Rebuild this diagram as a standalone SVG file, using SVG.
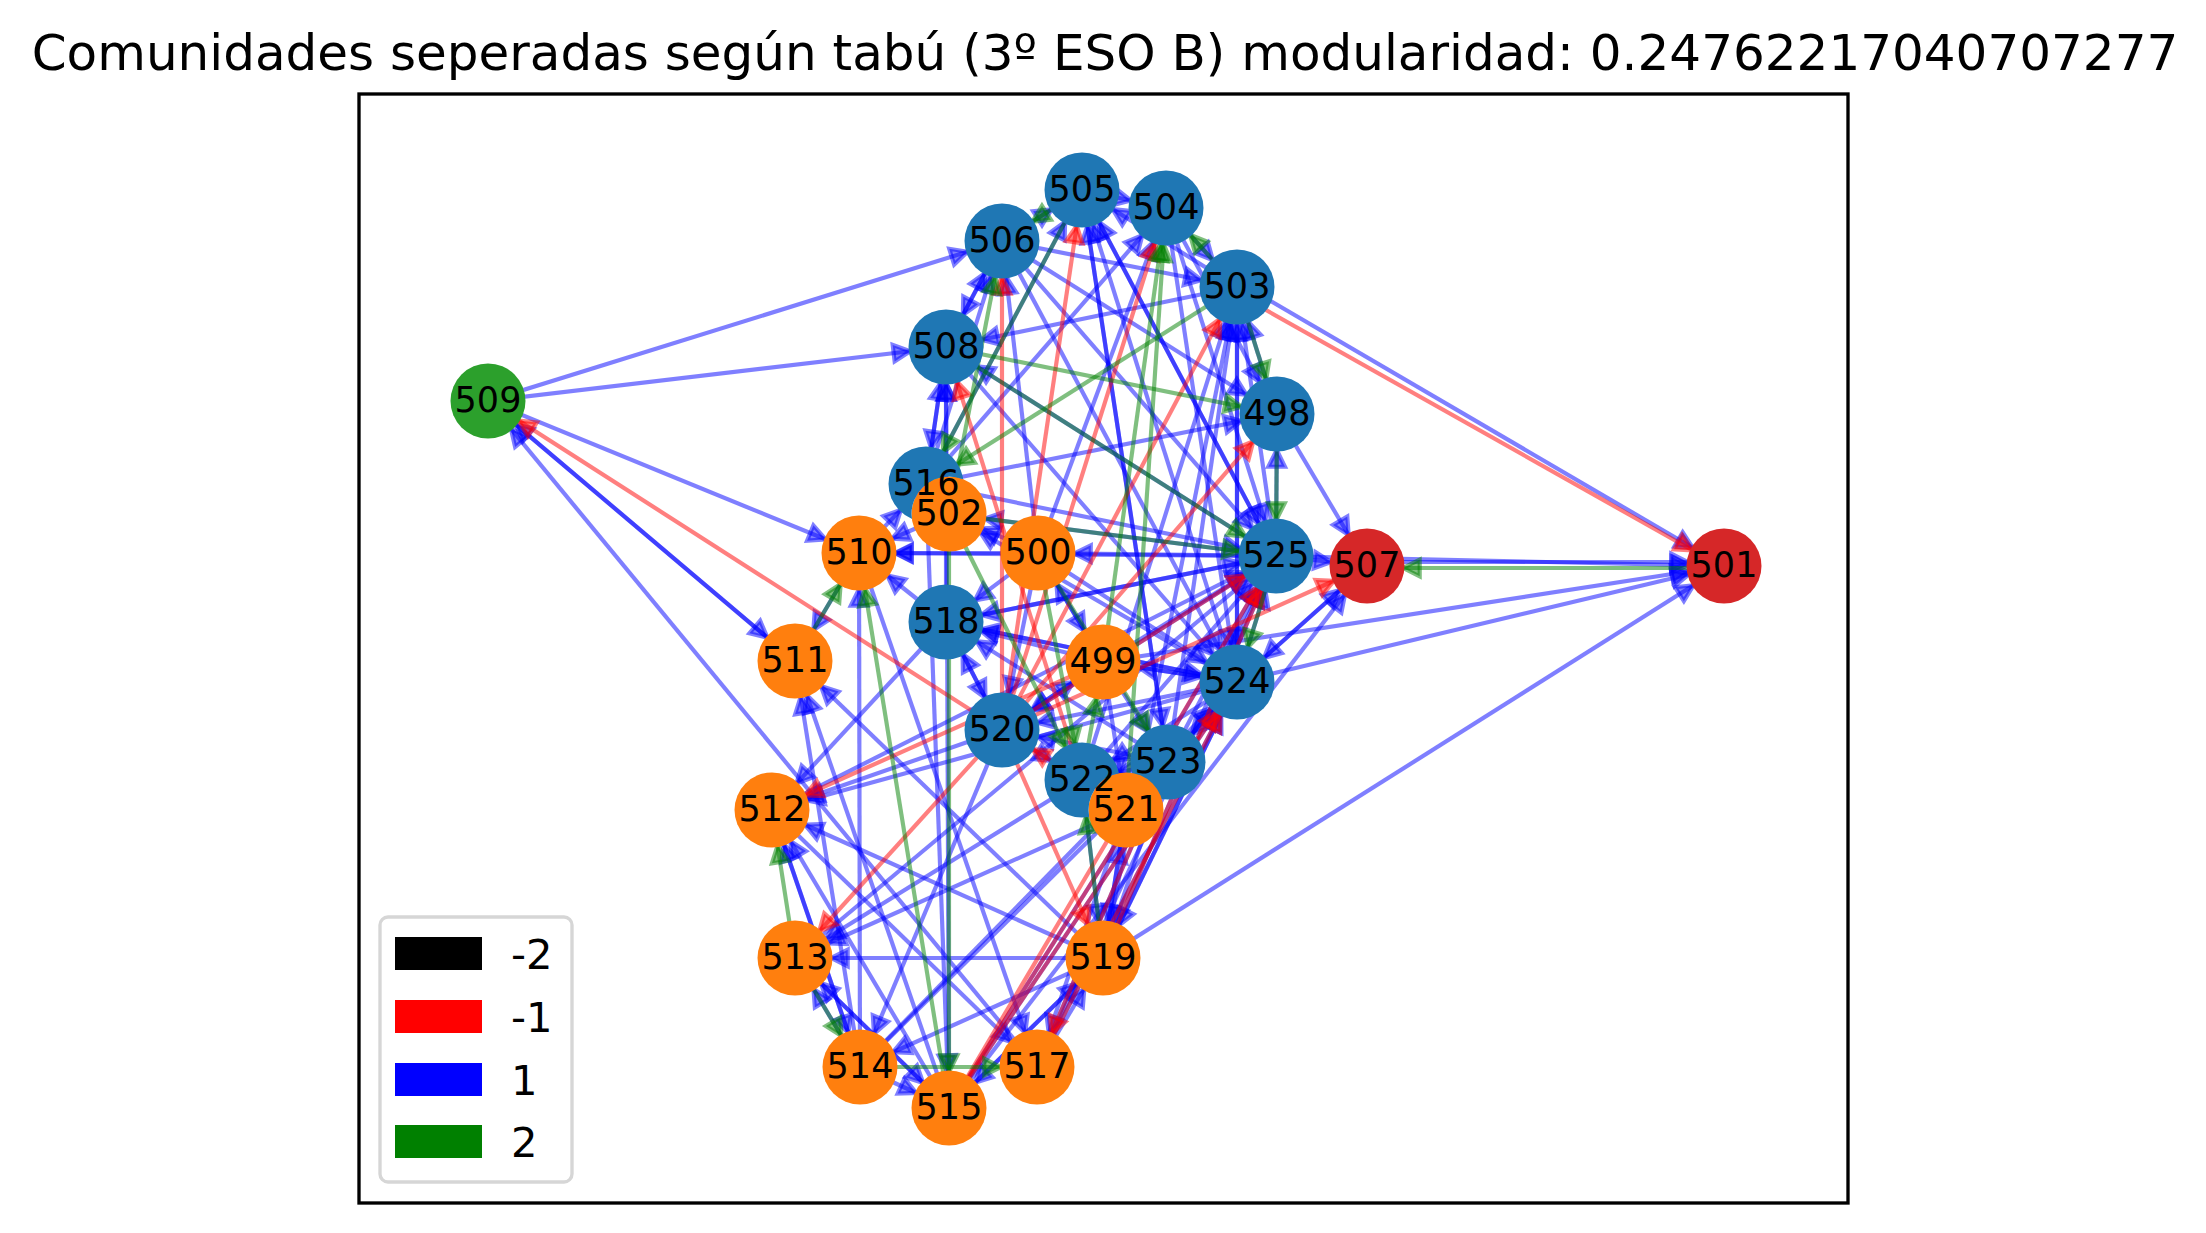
<svg xmlns="http://www.w3.org/2000/svg" width="2206" height="1233" viewBox="0 0 2206 1233">
<defs>
<style>
.e{fill:none;stroke-width:4.17;stroke-opacity:.5}
.b{stroke:#0000ff;marker-end:url(#mb)}
.r{stroke:#ff0000;marker-end:url(#mr)}
.g{stroke:#008000;marker-end:url(#mg)}
.nb{fill:#1f77b4}.no{fill:#ff7f0e}.ng{fill:#2ca02c}.nr{fill:#d62728}
.lbl{font-family:"DejaVu Sans","Liberation Sans",sans-serif;font-size:35px;text-anchor:middle;fill:#000}
.leg{font-family:"DejaVu Sans","Liberation Sans",sans-serif;font-size:41.7px;fill:#000}
</style>
<marker id="mb" markerUnits="userSpaceOnUse" orient="auto" markerWidth="80" markerHeight="30" viewBox="-70 -15 80 30" refX="0" refY="0" overflow="visible"><path d="M-36 0L-52.7-8.3L-52.7 8.3Z" fill="#0000ff" fill-opacity=".5" stroke="#0000ff" stroke-opacity=".5" stroke-width="4.17"/></marker>
<marker id="mr" markerUnits="userSpaceOnUse" orient="auto" markerWidth="80" markerHeight="30" viewBox="-70 -15 80 30" refX="0" refY="0" overflow="visible"><path d="M-36 0L-52.7-8.3L-52.7 8.3Z" fill="#ff0000" fill-opacity=".5" stroke="#ff0000" stroke-opacity=".5" stroke-width="4.17"/></marker>
<marker id="mg" markerUnits="userSpaceOnUse" orient="auto" markerWidth="80" markerHeight="30" viewBox="-70 -15 80 30" refX="0" refY="0" overflow="visible"><path d="M-36 0L-52.7-8.3L-52.7 8.3Z" fill="#008000" fill-opacity=".5" stroke="#008000" stroke-opacity=".5" stroke-width="4.17"/></marker>
<clipPath id="not502"><path clip-rule="evenodd" d="M0 0H2206V1233H0Z M911.5 514a37.5 37.5 0 1 0 75 0a37.5 37.5 0 1 0-75 0Z"/></clipPath>
<clipPath id="not521"><path clip-rule="evenodd" d="M0 0H2206V1233H0Z M1088.5 810a37.5 37.5 0 1 0 75 0a37.5 37.5 0 1 0-75 0Z"/></clipPath>
</defs>
<rect width="2206" height="1233" fill="#fff"/>
<text x="1105" y="70" font-family="DejaVu Sans, Liberation Sans, sans-serif" font-size="50" text-anchor="middle">Comunidades seperadas según tabú (3º ESO B) modularidad: 0.24762217040707277</text>
<rect x="359" y="94" width="1489" height="1109" fill="none" stroke="#000" stroke-width="3.33"/>
<g id="edges">
<line class="e b" x1="488" y1="401" x2="1002" y2="241"/>
<line class="e b" x1="488" y1="401" x2="946" y2="347"/>
<line class="e b" x1="488" y1="401" x2="859" y2="553"/>
<line class="e b" x1="488" y1="401" x2="795" y2="661"/>
<line class="e b" x1="795" y1="661" x2="488" y2="401"/>
<line class="e b" x1="1037" y1="1067" x2="488" y2="401"/>
<line class="e b" x1="1240" y1="283" x2="1724" y2="566"/>
<line class="e b" x1="1367" y1="562" x2="1724" y2="562"/>
<line class="e b" x1="1276" y1="556" x2="1724" y2="566"/>
<line class="e b" x1="1103" y1="662" x2="1724" y2="566"/>
<line class="e b" x1="1237" y1="682" x2="1724" y2="566"/>
<line class="e b" x1="1103" y1="958" x2="1724" y2="566"/>
<line class="e b" x1="1277" y1="414" x2="1367" y2="566"/>
<line class="e b" x1="1276" y1="556" x2="1367" y2="566"/>
<line class="e b" x1="1237" y1="682" x2="1367" y2="566"/>
<line class="e b" x1="949" y1="1108" x2="1367" y2="566"/>
<line class="e b" x1="1367" y1="566" x2="1237" y2="682"/>
<line class="e b" x1="1002" y1="241" x2="1082" y2="190"/>
<line class="e b" x1="1082" y1="190" x2="1166" y2="208"/>
<line class="e b" x1="1237" y1="287" x2="1082" y2="190"/>
<line class="e b" x1="1237" y1="682" x2="1082" y2="190"/>
<line class="e b" x1="1276" y1="556" x2="1082" y2="190"/>
<line class="e b" x1="1168" y1="762" x2="1082" y2="190"/>
<line class="e b" x1="1166" y1="208" x2="1237" y2="287"/>
<line class="e b" x1="1002" y1="241" x2="1237" y2="287"/>
<line class="e b" x1="1237" y1="287" x2="946" y2="347"/>
<line class="e b" x1="1002" y1="241" x2="1277" y2="414"/>
<line class="e b" x1="946" y1="347" x2="1002" y2="241"/>
<line class="e b" x1="1002" y1="241" x2="946" y2="347"/>
<line class="e b" x1="926" y1="484" x2="1002" y2="241"/>
<line class="e b" x1="926" y1="484" x2="1166" y2="208"/>
<line class="e b" x1="926" y1="484" x2="1082" y2="190"/>
<line class="e b" x1="1082" y1="190" x2="1276" y2="556"/>
<line class="e b" x1="1166" y1="208" x2="1276" y2="556"/>
<line class="e b" x1="1002" y1="241" x2="1237" y2="682"/>
<line class="e b" x1="1166" y1="208" x2="1277" y2="414"/>
<line class="e b" x1="1277" y1="414" x2="1237" y2="287"/>
<line class="e b" x1="1276" y1="556" x2="1237" y2="287"/>
<line class="e b" x1="1237" y1="682" x2="1237" y2="287"/>
<line class="e b" x1="1168" y1="762" x2="1237" y2="287"/>
<line class="e b" x1="1082" y1="780" x2="1237" y2="287"/>
<line class="e b" x1="1103" y1="958" x2="1237" y2="287"/>
<line class="e b" x1="946" y1="347" x2="1237" y2="682"/>
<line class="e b" x1="1276" y1="556" x2="946" y2="347"/>
<line class="e b" x1="926" y1="484" x2="946" y2="347"/>
<line class="e b" x1="946" y1="347" x2="926" y2="484"/>
<line class="e b" x1="946" y1="622" x2="946" y2="347"/>
<line class="e b" x1="926" y1="484" x2="1277" y2="414"/>
<line class="e b" x1="926" y1="484" x2="1276" y2="556"/>
<line class="e b" x1="1276" y1="556" x2="949" y2="514"/>
<line class="e b" x1="1276" y1="556" x2="1038" y2="553"/>
<line class="e b" x1="1276" y1="556" x2="859" y2="553"/>
<line class="e b" x1="1276" y1="556" x2="946" y2="622"/>
<line class="e b" x1="1276" y1="556" x2="1002" y2="730"/>
<line class="e b" x1="1276" y1="556" x2="1277" y2="414"/>
<line class="e b" x1="1038" y1="553" x2="859" y2="553"/>
<line class="e b" x1="1038" y1="553" x2="949" y2="514"/>
<line class="e b" x1="949" y1="514" x2="859" y2="553"/>
<line class="e b" x1="859" y1="553" x2="926" y2="484"/>
<line class="e b" x1="946" y1="622" x2="859" y2="553"/>
<line class="e b" x1="1038" y1="553" x2="946" y2="622"/>
<line class="e b" x1="1103" y1="662" x2="946" y2="622"/>
<line class="e b" x1="1103" y1="662" x2="1038" y2="553"/>
<line class="e b" x1="1038" y1="553" x2="1103" y2="662"/>
<line class="e b" x1="1038" y1="553" x2="1237" y2="682"/>
<line class="e b" x1="1038" y1="553" x2="1002" y2="241"/>
<line class="e b" x1="1038" y1="553" x2="1166" y2="208"/>
<line class="e b" x1="1103" y1="662" x2="1237" y2="682"/>
<line class="e b" x1="1237" y1="682" x2="1103" y2="662"/>
<line class="e b" x1="1103" y1="662" x2="1002" y2="730"/>
<line class="e b" x1="1002" y1="730" x2="1103" y2="662"/>
<line class="e b" x1="946" y1="622" x2="1237" y2="682"/>
<line class="e b" x1="946" y1="622" x2="1276" y2="556"/>
<line class="e b" x1="1237" y1="682" x2="1002" y2="730"/>
<line class="e b" x1="1168" y1="762" x2="1002" y2="730"/>
<line class="e b" x1="1002" y1="730" x2="1082" y2="780"/>
<line class="e b" x1="1103" y1="662" x2="1126" y2="810"/>
<line class="e b" x1="926" y1="484" x2="949" y2="1108"/>
<line class="e b" x1="859" y1="553" x2="795" y2="661"/>
<line class="e b" x1="860" y1="1067" x2="859" y2="553"/>
<line class="e b" x1="946" y1="622" x2="772" y2="810"/>
<line class="e b" x1="1002" y1="730" x2="772" y2="810"/>
<line class="e b" x1="1237" y1="682" x2="772" y2="810"/>
<line class="e b" x1="1082" y1="780" x2="795" y2="958"/>
<line class="e b" x1="1126" y1="810" x2="795" y2="958"/>
<line class="e b" x1="1002" y1="730" x2="860" y2="1067"/>
<line class="e b" x1="1103" y1="958" x2="795" y2="661"/>
<line class="e b" x1="949" y1="1108" x2="795" y2="661"/>
<line class="e b" x1="860" y1="1067" x2="795" y2="661"/>
<line class="e b" x1="860" y1="1067" x2="772" y2="810"/>
<line class="e b" x1="949" y1="1108" x2="772" y2="810"/>
<line class="e b" x1="1103" y1="958" x2="772" y2="810"/>
<line class="e b" x1="772" y1="810" x2="1037" y2="1067"/>
<line class="e b" x1="772" y1="810" x2="860" y2="1067"/>
<line class="e b" x1="860" y1="1067" x2="795" y2="958"/>
<line class="e b" x1="795" y1="958" x2="949" y2="1108"/>
<line class="e b" x1="949" y1="1108" x2="795" y2="958"/>
<line class="e b" x1="1103" y1="958" x2="795" y2="958"/>
<line class="e b" x1="860" y1="1067" x2="949" y2="1108"/>
<line class="e b" x1="1103" y1="958" x2="860" y2="1067"/>
<line class="e b" x1="1103" y1="958" x2="949" y2="1108"/>
<line class="e b" x1="949" y1="1108" x2="1103" y2="958"/>
<line class="e b" x1="1037" y1="1067" x2="1103" y2="958"/>
<line class="e b" x1="1126" y1="810" x2="1037" y2="1067"/>
<line class="e b" x1="1126" y1="810" x2="1103" y2="958"/>
<line class="e b" x1="1082" y1="780" x2="1103" y2="958"/>
<line class="e b" x1="1168" y1="762" x2="1103" y2="958"/>
<line class="e b" x1="1237" y1="682" x2="1103" y2="958"/>
<line class="e b" x1="949" y1="1108" x2="1168" y2="762"/>
<line class="e b" x1="949" y1="1108" x2="1237" y2="682"/>
<line class="e b" x1="1037" y1="1067" x2="1237" y2="682"/>
<line class="e b" x1="1037" y1="1067" x2="1168" y2="762"/>
<line class="e b" x1="860" y1="1067" x2="1237" y2="682"/>
<line class="e b" x1="860" y1="1067" x2="1168" y2="762"/>
<line class="e b" x1="859" y1="553" x2="1037" y2="1067"/>
<line class="e b" x1="946" y1="622" x2="1002" y2="730"/>
<line class="e b" x1="1002" y1="730" x2="946" y2="622"/>
<line class="e b" x1="1038" y1="553" x2="1002" y2="730"/>
<line class="e b" x1="1103" y1="662" x2="1168" y2="762"/>
<line class="e b" x1="1237" y1="682" x2="1082" y2="780"/>
<line class="e b" x1="1237" y1="682" x2="1126" y2="810"/>
<line class="e b" x1="1168" y1="762" x2="1082" y2="780"/>
<line class="e b" x1="1168" y1="762" x2="1126" y2="810"/>
<line class="e b" x1="1237" y1="682" x2="1168" y2="762"/>
<line class="e b" x1="1126" y1="810" x2="1237" y2="682"/>
<line class="e b" x1="1126" y1="810" x2="1276" y2="556"/>
<line class="e b" x1="1082" y1="780" x2="1276" y2="556"/>
<line class="e b" x1="1168" y1="762" x2="1276" y2="556"/>
<line class="e b" x1="1103" y1="958" x2="1237" y2="682"/>
<line class="e b" x1="1103" y1="958" x2="1276" y2="556"/>
<line class="e b" x1="1037" y1="1067" x2="1276" y2="556"/>
<line class="e b" x1="1237" y1="682" x2="946" y2="622"/>
<line class="e b" x1="1168" y1="762" x2="946" y2="622"/>
<line class="e b" x1="1237" y1="682" x2="949" y2="514"/>
<line class="e b" x1="949" y1="1108" x2="946" y2="347"/>
<line class="e b" x1="1237" y1="287" x2="1237" y2="682"/>
<line class="e b" x1="1103" y1="958" x2="1126" y2="810"/>
<line class="e b" x1="1237" y1="682" x2="1276" y2="556"/>
<line class="e b" x1="1103" y1="662" x2="1276" y2="556"/>
<line class="e b" x1="795" y1="958" x2="1276" y2="556"/>
<line class="e b" x1="772" y1="810" x2="1276" y2="556"/>
<line class="e b" x1="1082" y1="190" x2="1168" y2="762"/>
<line class="e b" x1="1002" y1="241" x2="1276" y2="556"/>
<line class="e b" x1="1166" y1="208" x2="1237" y2="682"/>
<line class="e r" x1="1002" y1="730" x2="488" y2="401"/>
<line class="e r" x1="1234" y1="292" x2="1724" y2="568"/>
<line class="e r" x1="1002" y1="730" x2="1367" y2="566"/>
<line class="e r" x1="1002" y1="730" x2="1002" y2="241"/>
<line class="e r" x1="1002" y1="730" x2="1082" y2="190"/>
<line class="e r" x1="1002" y1="730" x2="1166" y2="208"/>
<line class="e r" x1="1002" y1="730" x2="1237" y2="287"/>
<line class="e r" x1="1002" y1="730" x2="1277" y2="414"/>
<line class="e r" x1="1082" y1="780" x2="946" y2="347"/>
<line class="e r" x1="1002" y1="730" x2="1276" y2="556"/>
<line class="e r" x1="949" y1="1108" x2="1276" y2="556"/>
<line class="e r" x1="949" y1="1108" x2="1237" y2="682"/>
<line class="e r" x1="1037" y1="1067" x2="1237" y2="682"/>
<line class="e r" x1="1103" y1="662" x2="772" y2="810"/>
<line class="e r" x1="1002" y1="730" x2="795" y2="958"/>
<line class="e r" x1="1002" y1="730" x2="1103" y2="958"/>
<line class="e r" x1="1168" y1="762" x2="1037" y2="1067"/>
<line class="e r" x1="1082" y1="780" x2="1002" y2="730"/>
<line class="e r" x1="949" y1="1108" x2="1168" y2="762"/>
<line class="e r" x1="1103" y1="958" x2="1276" y2="556"/>
<line class="e g" x1="1724" y1="568" x2="1367" y2="568"/>
<line class="e g" x1="1082" y1="190" x2="1002" y2="241"/>
<line class="e g" x1="1237" y1="287" x2="1166" y2="208"/>
<line class="e g" x1="949" y1="514" x2="1002" y2="241"/>
<line class="e g" x1="1126" y1="810" x2="1166" y2="208"/>
<line class="e g" x1="1237" y1="287" x2="1277" y2="414"/>
<line class="e g" x1="1237" y1="287" x2="926" y2="484"/>
<line class="e g" x1="946" y1="347" x2="1277" y2="414"/>
<line class="e g" x1="946" y1="347" x2="1276" y2="556"/>
<line class="e g" x1="949" y1="514" x2="1276" y2="556"/>
<line class="e g" x1="1277" y1="414" x2="1276" y2="556"/>
<line class="e g" x1="949" y1="514" x2="1082" y2="780"/>
<line class="e g" x1="1038" y1="553" x2="1082" y2="780"/>
<line class="e g" x1="1038" y1="553" x2="1168" y2="762"/>
<line class="e g" x1="1082" y1="780" x2="1103" y2="662"/>
<line class="e g" x1="795" y1="661" x2="859" y2="553"/>
<line class="e g" x1="949" y1="1108" x2="859" y2="553"/>
<line class="e g" x1="949" y1="514" x2="949" y2="1108"/>
<line class="e g" x1="795" y1="958" x2="772" y2="810"/>
<line class="e g" x1="795" y1="958" x2="860" y2="1067"/>
<line class="e g" x1="860" y1="1067" x2="1037" y2="1067"/>
<line class="e g" x1="1103" y1="958" x2="1082" y2="780"/>
<line class="e g" x1="1103" y1="662" x2="1166" y2="208"/>
<line class="e g" x1="1082" y1="190" x2="926" y2="484"/>
<line class="e g" x1="1276" y1="556" x2="1237" y2="682"/>
</g>
<g id="nodes">
<g id="n498"><circle class="nb" cx="1277" cy="414" r="37.5"/><text class="lbl" x="1277" y="425">498</text></g>
<g id="n499"><circle class="no" cx="1103" cy="662" r="37.5"/><text class="lbl" x="1103" y="673">499</text></g>
<g id="n500"><circle class="no" cx="1038" cy="553" r="37.5"/><text class="lbl" x="1038" y="564">500</text></g>
<g id="n501"><circle class="nr" cx="1724" cy="566" r="37.5"/><text class="lbl" x="1724" y="577">501</text></g>
<g id="n502"><circle class="no" cx="949" cy="514" r="37.5"/><text class="lbl" x="949" y="525">502</text></g>
<g id="n516"><circle class="nb" cx="926" cy="484" r="37.5" clip-path="url(#not502)"/><text class="lbl" x="926" y="495">516</text></g>
<g id="n503"><circle class="nb" cx="1237" cy="287" r="37.5"/><text class="lbl" x="1237" y="298">503</text></g>
<g id="n504"><circle class="nb" cx="1166" cy="208" r="37.5"/><text class="lbl" x="1166" y="219">504</text></g>
<g id="n505"><circle class="nb" cx="1082" cy="190" r="37.5"/><text class="lbl" x="1082" y="201">505</text></g>
<g id="n506"><circle class="nb" cx="1002" cy="241" r="37.5"/><text class="lbl" x="1002" y="252">506</text></g>
<g id="n507"><circle class="nr" cx="1367" cy="566" r="37.5"/><text class="lbl" x="1367" y="577">507</text></g>
<g id="n508"><circle class="nb" cx="946" cy="347" r="37.5"/><text class="lbl" x="946" y="358">508</text></g>
<g id="n509"><circle class="ng" cx="488" cy="401" r="37.5"/><text class="lbl" x="488" y="412">509</text></g>
<g id="n510"><circle class="no" cx="859" cy="553" r="37.5"/><text class="lbl" x="859" y="564">510</text></g>
<g id="n511"><circle class="no" cx="795" cy="661" r="37.5"/><text class="lbl" x="795" y="672">511</text></g>
<g id="n512"><circle class="no" cx="772" cy="810" r="37.5"/><text class="lbl" x="772" y="821">512</text></g>
<g id="n513"><circle class="no" cx="795" cy="958" r="37.5"/><text class="lbl" x="795" y="969">513</text></g>
<g id="n514"><circle class="no" cx="860" cy="1067" r="37.5"/><text class="lbl" x="860" y="1078">514</text></g>
<g id="n515"><circle class="no" cx="949" cy="1108" r="37.5"/><text class="lbl" x="949" y="1119">515</text></g>
<g id="n517"><circle class="no" cx="1037" cy="1067" r="37.5"/><text class="lbl" x="1037" y="1078">517</text></g>
<g id="n518"><circle class="nb" cx="946" cy="622" r="37.5"/><text class="lbl" x="946" y="633">518</text></g>
<g id="n519"><circle class="no" cx="1103" cy="958" r="37.5"/><text class="lbl" x="1103" y="969">519</text></g>
<g id="n520"><circle class="nb" cx="1002" cy="730" r="37.5"/><text class="lbl" x="1002" y="741">520</text></g>
<g id="n523"><circle class="nb" cx="1168" cy="762" r="37.5"/><text class="lbl" x="1168" y="773">523</text></g>
<g id="n521"><circle class="no" cx="1126" cy="810" r="37.5"/><text class="lbl" x="1126" y="821">521</text></g>
<g id="n522"><circle class="nb" cx="1082" cy="780" r="37.5" clip-path="url(#not521)"/><text class="lbl" x="1082" y="791">522</text></g>
<g id="n524"><circle class="nb" cx="1237" cy="682" r="37.5"/><text class="lbl" x="1237" y="693">524</text></g>
<g id="n525"><circle class="nb" cx="1276" cy="556" r="37.5"/><text class="lbl" x="1276" y="567">525</text></g>
</g>
<g id="legend">
<rect x="380" y="917" width="192" height="265" rx="8" fill="#fff" stroke="#d6d6d6" stroke-width="3.33"/>
<rect x="395" y="937" width="87" height="33" fill="#000"/>
<rect x="395" y="1000" width="87" height="33" fill="#ff0000"/>
<rect x="395" y="1063" width="87" height="33" fill="#0000ff"/>
<rect x="395" y="1125" width="87" height="33" fill="#008000"/>
<text class="leg" x="511" y="969">-2</text>
<text class="leg" x="511" y="1032">-1</text>
<text class="leg" x="511" y="1095">1</text>
<text class="leg" x="511" y="1157">2</text>
</g>
</svg>
